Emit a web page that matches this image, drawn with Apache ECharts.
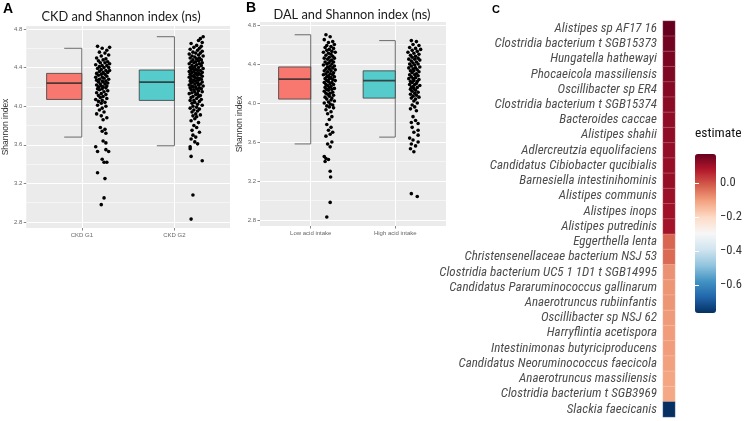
<!DOCTYPE html>
<html><head><meta charset="utf-8">
<script src="https://cdn.jsdelivr.net/npm/echarts@6/dist/echarts.min.js"></script>
<style>html,body{margin:0;padding:0;background:#fff}#c{width:745px;height:421px}</style>
</head><body><div id="c"></div>
<script>
// ---------------- DATA ----------------
const ckdCats = ['CKD G1', 'CKD G2'];
const dalCats = ['Low acid intake', 'High acid intake'];
const shannonTicks = [2.8, 3.2, 3.6, 4.0, 4.4, 4.8];
const shannonMinor = [3.0, 3.4, 3.8, 4.2, 4.6];
// [category position, lower whisker, Q1, median, Q3, upper whisker]
const ckdBox = [[1, 3.68, 4.07, 4.24, 4.34, 4.60], [2, 3.59, 4.06, 4.25, 4.375, 4.72]];
const dalBox = [[1, 3.58, 4.04, 4.245, 4.37, 4.70], [2, 3.65, 4.05, 4.23, 4.33, 4.64]];
// jittered points [x, shannon]
const ckdG1 = [
[1.17,4.62],[1.30,4.61],[1.22,4.60],[1.27,4.58],[1.19,4.56],[1.25,4.55],[1.29,4.53],[1.21,4.52],[1.16,4.50],[1.26,4.49],
[1.23,4.48],[1.18,4.47],[1.28,4.46],[1.20,4.45],[1.25,4.45],[1.30,4.44],[1.15,4.43],[1.22,4.42],[1.27,4.42],[1.19,4.41],[1.24,4.40],[1.29,4.40],
[1.17,4.39],[1.21,4.38],[1.26,4.37],[1.30,4.37],[1.19,4.36],[1.23,4.35],[1.28,4.35],[1.16,4.34],[1.21,4.33],[1.25,4.33],[1.18,4.32],[1.27,4.31],[1.22,4.30],[1.15,4.30],
[1.24,4.29],[1.19,4.28],[1.29,4.28],[1.16,4.27],[1.22,4.26],[1.26,4.26],[1.18,4.25],[1.23,4.25],[1.28,4.24],[1.20,4.23],[1.25,4.23],[1.16,4.22],[1.21,4.21],[1.27,4.21],[1.18,4.20],[1.23,4.20],
[1.26,4.19],[1.17,4.18],[1.22,4.18],[1.19,4.17],[1.28,4.16],[1.24,4.15],[1.16,4.14],[1.21,4.13],[1.26,4.12],[1.18,4.11],[1.23,4.10],
[1.20,4.09],[1.27,4.08],[1.15,4.07],[1.22,4.06],[1.18,4.05],[1.25,4.04],[1.21,4.03],[1.17,4.01],[1.26,4.00],
[1.22,3.98],[1.19,3.96],[1.24,3.94],[1.16,3.92],[1.21,3.90],[1.27,3.88],[1.23,3.86],
[1.20,3.78],[1.25,3.76],[1.22,3.74],[1.26,3.72],
[1.23,3.64],[1.26,3.62],[1.15,3.58],[1.26,3.55],[1.17,3.53],[1.29,3.53],
[1.22,3.45],[1.24,3.42],[1.27,3.42],[1.17,3.31],[1.25,3.25],[1.24,3.05],[1.21,2.98]
];
const ckdG2 = [
[2.31,4.72],[2.28,4.70],[2.26,4.68],[2.30,4.66],[2.18,4.65],[2.24,4.63],[2.29,4.62],[2.21,4.61],[2.27,4.60],[2.17,4.59],
[2.25,4.58],[2.30,4.57],[2.20,4.56],[2.23,4.55],[2.28,4.55],[2.16,4.54],[2.26,4.53],[2.19,4.52],[2.31,4.52],[2.22,4.51],
[2.27,4.50],[2.17,4.50],[2.24,4.49],[2.29,4.48],[2.20,4.48],[2.26,4.47],[2.18,4.46],[2.23,4.46],[2.30,4.45],[2.21,4.45],
[2.16,4.44],[2.27,4.44],[2.24,4.43],[2.19,4.42],[2.29,4.42],[2.22,4.41],[2.17,4.40],[2.26,4.40],[2.20,4.39],[2.31,4.39],
[2.23,4.38],[2.18,4.38],[2.28,4.37],[2.25,4.37],[2.16,4.36],[2.21,4.36],[2.30,4.35],[2.19,4.35],[2.26,4.34],[2.23,4.34],
[2.17,4.33],[2.28,4.33],[2.21,4.32],[2.25,4.32],[2.19,4.31],[2.30,4.31],[2.22,4.30],[2.16,4.30],[2.27,4.29],[2.24,4.29],
[2.18,4.28],[2.29,4.28],[2.21,4.27],[2.26,4.27],[2.17,4.26],[2.23,4.26],[2.30,4.25],[2.20,4.25],[2.25,4.24],[2.18,4.24],
[2.28,4.23],[2.22,4.23],[2.16,4.22],[2.26,4.22],[2.19,4.21],[2.31,4.21],[2.23,4.20],[2.20,4.20],[2.27,4.19],[2.17,4.19],
[2.24,4.18],[2.29,4.18],[2.21,4.17],[2.18,4.17],[2.26,4.16],[2.22,4.15],[2.30,4.15],[2.19,4.14],[2.25,4.13],[2.16,4.13],
[2.23,4.12],[2.28,4.11],[2.20,4.10],[2.26,4.10],[2.18,4.09],[2.24,4.08],[2.29,4.07],[2.21,4.06],[2.17,4.06],[2.27,4.05],
[2.22,4.04],[2.19,4.03],[2.25,4.02],[2.30,4.01],[2.20,4.00],[2.24,3.99],[2.17,3.98],[2.27,3.97],[2.21,3.96],[2.25,3.95],
[2.19,3.94],[2.23,3.92],[2.28,3.91],[2.20,3.90],[2.24,3.89],[2.22,3.87],[2.18,3.85],[2.26,3.83],[2.21,3.80],[2.24,3.78],
[2.19,3.75],[2.27,3.73],[2.20,3.70],[2.23,3.68],[2.18,3.66],[2.22,3.63],[2.25,3.61],[2.17,3.58],[2.17,3.56],[2.18,3.48],
[2.30,3.435],[2.20,3.08],[2.18,2.83]
];
const dalLow = [
[1.18,4.70],[1.23,4.68],[1.16,4.65],[1.26,4.63],[1.21,4.62],[1.28,4.60],[1.19,4.59],[1.24,4.58],[1.17,4.57],[1.27,4.56],
[1.22,4.55],[1.19,4.54],[1.25,4.53],[1.15,4.52],[1.29,4.52],[1.21,4.51],[1.24,4.50],[1.18,4.49],[1.26,4.48],[1.22,4.47],
[1.16,4.46],[1.28,4.46],[1.20,4.45],[1.25,4.44],[1.23,4.43],[1.17,4.42],[1.27,4.42],[1.21,4.41],[1.19,4.40],[1.25,4.40],
[1.15,4.39],[1.23,4.38],[1.28,4.38],[1.20,4.37],[1.26,4.36],[1.18,4.35],[1.22,4.35],[1.29,4.34],[1.16,4.33],[1.24,4.33],
[1.20,4.32],[1.27,4.31],[1.18,4.30],[1.23,4.30],[1.15,4.29],[1.26,4.29],[1.21,4.28],[1.19,4.27],[1.28,4.27],[1.24,4.26],
[1.17,4.25],[1.22,4.25],[1.26,4.24],[1.19,4.23],[1.29,4.23],[1.21,4.22],[1.16,4.21],[1.25,4.21],[1.23,4.20],[1.18,4.19],
[1.27,4.19],[1.20,4.18],[1.24,4.17],[1.17,4.16],[1.22,4.16],[1.28,4.15],[1.19,4.14],[1.25,4.14],[1.21,4.13],[1.16,4.12],
[1.26,4.11],[1.23,4.10],[1.18,4.10],[1.20,4.09],[1.27,4.08],[1.22,4.07],[1.17,4.06],[1.25,4.05],[1.19,4.04],[1.24,4.03],
[1.28,4.02],[1.21,4.01],[1.16,4.00],[1.23,3.99],[1.26,3.98],[1.19,3.97],[1.22,3.96],[1.27,3.95],[1.18,3.93],[1.24,3.91],
[1.20,3.89],[1.25,3.86],[1.22,3.83],[1.19,3.78],[1.24,3.75],[1.21,3.72],[1.26,3.70],[1.23,3.68],[1.18,3.66],[1.25,3.60],
[1.20,3.58],[1.23,3.55],[1.16,3.45],[1.18,3.43],[1.21,3.42],[1.17,3.40],[1.23,3.30],[1.235,3.24],[1.23,2.98],[1.19,2.83]
];
const dalHigh = [
[2.19,4.64],[2.25,4.63],[2.21,4.60],[2.28,4.59],[2.17,4.57],[2.24,4.56],[2.30,4.55],[2.20,4.54],[2.26,4.53],[2.15,4.52],
[2.22,4.51],[2.28,4.50],[2.18,4.49],[2.24,4.48],[2.20,4.47],[2.27,4.46],[2.16,4.45],[2.23,4.45],[2.29,4.44],[2.19,4.43],
[2.25,4.42],[2.21,4.41],[2.17,4.40],[2.27,4.40],[2.23,4.39],[2.19,4.38],[2.29,4.37],[2.16,4.36],[2.24,4.36],[2.21,4.35],
[2.26,4.34],[2.18,4.33],[2.22,4.33],[2.28,4.32],[2.20,4.31],[2.25,4.30],[2.17,4.29],[2.23,4.29],[2.27,4.28],[2.19,4.27],
[2.24,4.26],[2.21,4.25],[2.16,4.25],[2.28,4.24],[2.22,4.23],[2.18,4.22],[2.26,4.22],[2.20,4.21],[2.25,4.20],[2.17,4.19],
[2.23,4.19],[2.29,4.18],[2.21,4.17],[2.19,4.16],[2.26,4.16],[2.22,4.15],[2.18,4.14],[2.24,4.13],[2.20,4.12],[2.27,4.11],
[2.23,4.10],[2.18,4.09],[2.25,4.08],[2.21,4.07],[2.28,4.06],[2.19,4.05],[2.24,4.04],[2.22,4.02],[2.26,4.00],[2.20,3.98],
[2.23,3.96],[2.18,3.94],[2.25,3.92],[2.21,3.86],[2.24,3.82],[2.19,3.80],[2.27,3.79],[2.20,3.75],[2.27,3.72],[2.22,3.70],
[2.27,3.67],[2.17,3.64],[2.21,3.62],[2.27,3.60],[2.19,3.58],[2.24,3.56],[2.18,3.53],[2.22,3.50],[2.19,3.07],[2.26,3.04]
];
const taxa = [
'Alistipes sp AF17 16','Clostridia bacterium t SGB15373','Hungatella hathewayi','Phocaeicola massiliensis',
'Oscillibacter sp ER4','Clostridia bacterium t SGB15374','Bacteroides caccae','Alistipes shahii',
'Adlercreutzia equolifaciens','Candidatus Cibiobacter qucibialis','Barnesiella intestinihominis','Alistipes communis',
'Alistipes inops','Alistipes putredinis','Eggerthella lenta','Christensenellaceae bacterium NSJ 53',
'Clostridia bacterium UC5 1 1D1 t SGB14995','Candidatus Pararuminococcus gallinarum','Anaerotruncus rubiinfantis',
'Oscillibacter sp NSJ 62','Harryflintia acetispora','Intestinimonas butyriciproducens','Candidatus Neoruminococcus faecicola',
'Anaerotruncus massiliensis','Clostridia bacterium t SGB3969','Slackia faecicanis'
];
const estimates = [0.17,0.155,0.145,0.14,0.13,0.125,0.12,0.12,0.115,0.11,0.11,0.105,0.10,0.095,
  -0.025,-0.03,-0.085,-0.09,-0.09,-0.095,-0.10,-0.10,-0.105,-0.11,-0.115,-0.765];
const estimateRange = [-0.765, 0.17];
const legendTicks = [-0.6, -0.4, -0.2, 0.0];

// ---------------- STYLE ----------------
const boxFills = ['#F8786F', '#55CBCC'];
const rdbu = ['#053061','#2166ac','#4393c3','#92c5de','#d1e5f0','#f7f7f7','#fddbc7','#f4a582','#d6604d','#b2182b','#67001f'];
const yMin = 2.738, yMax = 4.831;
const tickFont = 'Liberation Sans, Arial, sans-serif';
const narrowFont = '"Liberation Sans Narrow", "Arial Narrow", "Roboto Condensed", sans-serif';

function boxRender(params, api) {
  const c = api.value(0), lo = api.value(1), q1 = api.value(2), md = api.value(3), q3 = api.value(4), hi = api.value(5);
  const pHi = api.coord([c, hi]), pLo = api.coord([c, lo]);
  const capL = api.coord([c - 0.19, hi])[0];
  const tl = api.coord([c - 0.38, q3]), br = api.coord([c, q1]);
  const mL = api.coord([c - 0.38, md]), mR = api.coord([c, md]);
  const ws = { stroke: '#6a6a6a', lineWidth: 1 };
  return { type: 'group', children: [
    { type: 'line', shape: { x1: pHi[0], y1: pHi[1], x2: pLo[0], y2: pLo[1] }, style: ws },
    { type: 'line', shape: { x1: capL, y1: pHi[1], x2: pHi[0], y2: pHi[1] }, style: ws },
    { type: 'line', shape: { x1: capL, y1: pLo[1], x2: pLo[0], y2: pLo[1] }, style: ws },
    { type: 'rect', shape: { x: tl[0], y: tl[1], width: br[0] - tl[0], height: br[1] - tl[1] },
      style: { fill: boxFills[params.dataIndex], stroke: 'rgba(60,60,60,0.8)', lineWidth: 1 } },
    { type: 'line', shape: { x1: mL[0], y1: mL[1], x2: mR[0], y2: mR[1] }, style: { stroke: 'rgba(45,45,45,0.85)', lineWidth: 1.7 } }
  ]};
}

function xAxisFor(gi, cats) {
  return { gridIndex: gi, type: 'value', min: 0.4, max: 2.6,
    axisLine: { show: false },
    axisTick: { show: true, customValues: [1, 2], length: 2.5, lineStyle: { color: '#666', width: 0.8 } },
    axisLabel: { customValues: [1, 2], formatter: v => cats[Math.round(v) - 1], fontSize: 6, color: '#666', margin: 4, fontFamily: tickFont },
    splitLine: { show: true, lineStyle: { color: '#ffffff', width: 1 } } };
}
function yAxesFor(gi, gap) {
  return [
    { gridIndex: gi, type: 'value', min: yMin, max: yMax,
      name: 'Shannon index', nameLocation: 'middle', nameGap: gap,
      nameTextStyle: { fontSize: 8.5, color: '#333', fontFamily: tickFont },
      axisLine: { show: false },
      axisTick: { show: true, customValues: shannonTicks, length: 2.5, lineStyle: { color: '#666', width: 0.8 } },
      axisLabel: { customValues: shannonTicks, formatter: v => v.toFixed(1), fontSize: 6, color: '#666', margin: 4, fontFamily: tickFont },
      splitLine: { show: true, lineStyle: { color: '#ffffff', width: 1.1 } } },
    { gridIndex: gi, type: 'value', min: yMin, max: yMax,
      axisLine: { show: false }, axisLabel: { show: false },
      axisTick: { show: false, customValues: shannonMinor },
      splitLine: { show: true, lineStyle: { color: '#ffffff', width: 0.5 } } }
  ];
}

const chart = echarts.init(document.getElementById('c'), null, { renderer: 'canvas' });
const titleFont = 'Lato, "Open Sans", sans-serif';
chart.setOption({
  animation: false,
  backgroundColor: '#ffffff',
  title: [
    { text: 'A', left: 3, top: 2, padding: 0, textStyle: { fontSize: 14, fontWeight: 'bold', color: '#000', fontFamily: tickFont } },
    { text: 'CKD and Shannon index (ns)', left: 121, top: 10, padding: 0, textAlign: 'center', textStyle: { fontSize: 12.8, fontWeight: 'normal', color: '#1a1a1a', fontFamily: titleFont } },
    { text: 'B', left: 246, top: 1, padding: 0, textStyle: { fontSize: 14, fontWeight: 'bold', color: '#000', fontFamily: tickFont } },
    { text: 'DAL and Shannon index (ns)', left: 352, top: 8, padding: 0, textAlign: 'center', textStyle: { fontSize: 12.8, fontWeight: 'normal', color: '#1a1a1a', fontFamily: titleFont } },
    { text: 'C', left: 492, top: 4, padding: 0, textStyle: { fontSize: 11, fontWeight: 'bold', color: '#000', fontFamily: tickFont } },
    { text: 'estimate', left: 695, top: 127, padding: 0, textStyle: { fontSize: 13.5, fontWeight: 'normal', color: '#111', fontFamily: narrowFont } }
  ],
  grid: [
    { left: 26, top: 26, width: 204, height: 202, show: true, backgroundColor: '#ebebeb', borderWidth: 0 },
    { left: 260, top: 22, width: 186, height: 204, show: true, backgroundColor: '#ebebeb', borderWidth: 0 },
    { left: 663, top: 21, width: 12, height: 396 },
    { left: 695, top: 154, width: 21, height: 159 }
  ],
  xAxis: [
    xAxisFor(0, ckdCats),
    xAxisFor(1, dalCats),
    { gridIndex: 2, type: 'category', data: ['estimate'], show: false },
    { gridIndex: 3, type: 'value', min: 0, max: 1, show: false }
  ],
  yAxis: [
    ...yAxesFor(0, 14),
    ...yAxesFor(1, 15),
    { gridIndex: 2, type: 'category', data: taxa, inverse: true,
      axisLine: { show: false }, axisTick: { show: false },
      axisLabel: { interval: 0, fontSize: 13, fontStyle: 'italic', color: '#4d4d4d', margin: 6, fontFamily: narrowFont },
      splitLine: { show: false } },
    { gridIndex: 3, type: 'value', min: estimateRange[0], max: estimateRange[1], position: 'right', z: 10,
      axisLine: { show: false },
      axisTick: { show: true, inside: true, customValues: legendTicks, length: 4, lineStyle: { color: '#ffffff', width: 1 } },
      axisLabel: { customValues: legendTicks, formatter: v => v.toFixed(1).replace('-', '\u2212'), fontSize: 12.5, color: '#333', margin: 4, fontFamily: narrowFont },
      splitLine: { show: false } },
    { gridIndex: 3, type: 'value', min: estimateRange[0], max: estimateRange[1], position: 'left', z: 10,
      axisLine: { show: false }, axisLabel: { show: false },
      axisTick: { show: true, inside: true, customValues: legendTicks, length: 4, lineStyle: { color: '#ffffff', width: 1 } },
      splitLine: { show: false } }
  ],
  visualMap: {
    type: 'continuous', seriesIndex: 6, min: estimateRange[0], max: estimateRange[1],
    inRange: { color: rdbu }, left: 695, top: 154, itemWidth: 21, itemHeight: 159,
    calculable: false, padding: 0, text: null, orient: 'vertical'
  },
  series: [
    { type: 'custom', xAxisIndex: 0, yAxisIndex: 0, renderItem: boxRender, data: ckdBox, encode: { x: 0, y: [1, 2, 3, 4, 5] }, z: 2 },
    { type: 'scatter', xAxisIndex: 0, yAxisIndex: 0, data: ckdG1.concat(ckdG2), symbolSize: 3.6, itemStyle: { color: '#000', opacity: 1 }, z: 3 },
    { type: 'custom', xAxisIndex: 1, yAxisIndex: 2, renderItem: boxRender, data: dalBox, encode: { x: 0, y: [1, 2, 3, 4, 5] }, z: 2 },
    { type: 'scatter', xAxisIndex: 1, yAxisIndex: 2, data: dalLow.concat(dalHigh), symbolSize: 3.6, itemStyle: { color: '#000', opacity: 1 }, z: 3 },
    { type: 'scatter', xAxisIndex: 0, yAxisIndex: 1, data: [], silent: true },
    { type: 'scatter', xAxisIndex: 1, yAxisIndex: 3, data: [], silent: true },
    { type: 'heatmap', xAxisIndex: 2, yAxisIndex: 4,
      data: taxa.map((t, i) => [0, i, estimates[i]]),
      itemStyle: { borderColor: 'rgba(255,255,255,0.35)', borderWidth: 0.6 } }
  ]
});
</script></body></html>
